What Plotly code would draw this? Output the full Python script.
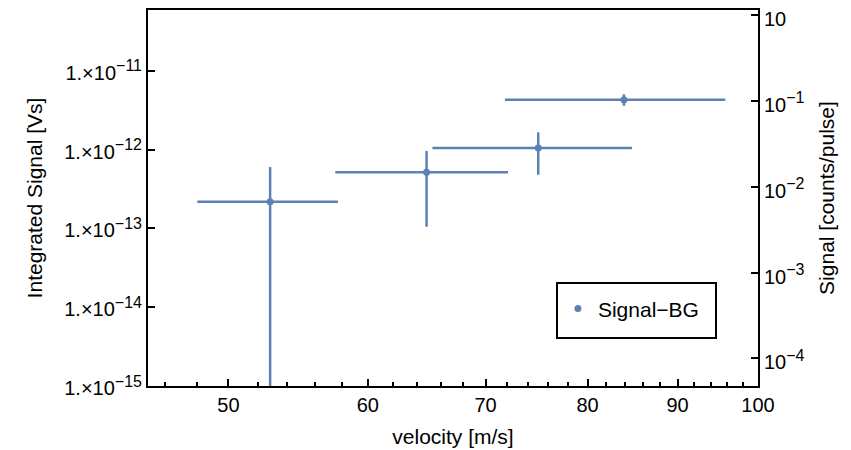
import plotly.graph_objects as go

# Data
velocity = [52.8, 64.8, 75.0, 83.9]
vel_low = [48.0, 57.5, 65.3, 71.8]
vel_high = [57.7, 72.1, 84.8, 95.8]
signal = [2.18e-13, 5.15e-13, 1.05e-12, 4.3e-12]
sig_low = [5e-16, 1.05e-13, 4.8e-13, 3.6e-12]
sig_high = [6.0e-13, 9.6e-13, 1.66e-12, 5.04e-12]

x_ticks = [50, 60, 70, 80, 90, 100]
x_minor = [46, 48, 52, 54, 56, 58, 62, 64, 66, 68, 72, 74, 76, 78, 82, 84, 86, 88, 92, 94, 96, 98]
y_ticks = [1e-15, 1e-14, 1e-13, 1e-12, 1e-11]
y_exps = ["−15", "−14", "−13", "−12", "−11"]
y2_ticks = [1e-4, 1e-3, 1e-2, 1e-1, 1]
y2_exps = ["−4", "−3", "−2", "−1", ""]

SUP = "<sup><span style='font-size:16px'>{}</span></sup>"
y_ticktext = ["1.×10" + SUP.format(e) for e in y_exps]
y2_ticktext = ["10" + (SUP.format(e) if e else "") for e in y2_exps]

color = "#5E81B5"
FONT = "Liberation Sans, Arial, sans-serif"

fig = go.Figure()
fig.add_trace(go.Scatter(
    x=velocity, y=signal, mode="markers", name="Signal−BG",
    marker=dict(color=color, size=7),
    error_x=dict(type="data", symmetric=False,
                 array=[h - v for h, v in zip(vel_high, velocity)],
                 arrayminus=[v - l for l, v in zip(vel_low, velocity)],
                 color=color, thickness=2.5, width=0),
    error_y=dict(type="data", symmetric=False,
                 array=[h - s for h, s in zip(sig_high, signal)],
                 arrayminus=[s - l for l, s in zip(sig_low, signal)],
                 color=color, thickness=2.5, width=0),
))
# invisible trace to activate the right axis
fig.add_trace(go.Scatter(x=[None], y=[None], yaxis="y2", showlegend=False, hoverinfo="skip"))

axis_common = dict(showgrid=False, zeroline=False, showline=True, linecolor="black",
                   linewidth=2, ticks="inside", tickcolor="black", tickwidth=1.5,
                   automargin=False, ticklabeloverflow="allow",
                   tickfont=dict(family=FONT, size=20, color="black"))

fig.update_layout(
    width=851, height=450,
    margin=dict(l=140, r=101, t=2, b=72),
    paper_bgcolor="white", plot_bgcolor="white",
    font=dict(family=FONT, size=20, color="black"),
    xaxis=dict(type="log", range=[1.65321, 2.0], tickvals=x_ticks,
               ticktext=[str(v) for v in x_ticks], ticklen=7, mirror=True,
               minor=dict(tickvals=x_minor, ticks="inside", ticklen=4,
                          tickcolor="black", tickwidth=1.5),
               title=dict(text="velocity [m/s]", font=dict(size=21), standoff=14),
               **axis_common),
    yaxis=dict(type="log", range=[-15, -10.228], tickvals=y_ticks, ticktext=y_ticktext,
               ticklen=7, ticklabelshift=2,
               title=dict(text="Integrated Signal [Vs]", font=dict(size=21), standoff=16),
               **axis_common),
    yaxis2=dict(type="log", range=[-4.321, 0.056], overlaying="y", side="right",
                tickvals=y2_ticks, ticktext=y2_ticktext, ticklen=7, ticklabelshift=4,
                title=dict(text="Signal [counts/pulse]", font=dict(size=21), standoff=16),
                **axis_common),
    showlegend=True,
    legend=dict(x=0.672, y=0.205, xanchor="left", yanchor="middle",
                bgcolor="rgba(0,0,0,0)", borderwidth=0,
                font=dict(family=FONT, size=21, color="black")),
    shapes=[dict(type="rect", xref="paper", yref="paper",
                 x0=(557 - 148) / 610, x1=(716 - 148) / 610,
                 y0=(386 - 338) / 376, y1=(386 - 283) / 376,
                 line=dict(color="black", width=2), fillcolor="white", layer="below")],
)

fig.write_html("out.html")
